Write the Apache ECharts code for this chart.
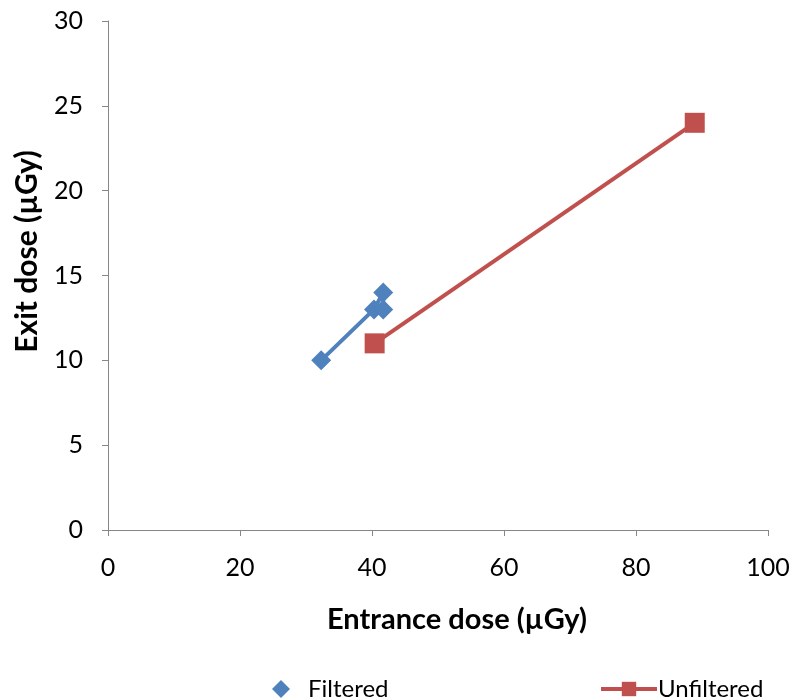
<!DOCTYPE html>
<html>
<head>
<meta charset="utf-8">
<script src="https://cdn.jsdelivr.net/npm/echarts@6/dist/echarts.min.js"></script>
<style>
  html, body { margin: 0; padding: 0; background: #fff; }
  #chart { width: 795px; height: 698px; }
</style>
</head>
<body>
<div id="chart"></div>
<script>
// Entrance vs exit dose, in µGy
const filteredEntrance = [32.3, 40.3, 41.7, 41.7];
const filteredExit = [10, 13, 14, 13];
const unfilteredEntrance = [40.4, 88.9];
const unfilteredExit = [11, 24];

const xTicks = [0, 20, 40, 60, 80, 100];
const yTicks = [0, 5, 10, 15, 20, 25, 30];

const FONT = 'Lato, "Open Sans", sans-serif';
const AXIS_GREY = '#868686';

const pairs = (xs, ys) => xs.map((x, i) => [x, ys[i]]);

const chart = echarts.init(document.getElementById('chart'), null, { renderer: 'canvas' });

chart.setOption({
  animation: false,
  backgroundColor: '#ffffff',
  grid: { left: 108, right: 27, top: 21, bottom: 168, containLabel: false },
  xAxis: {
    type: 'value',
    min: xTicks[0],
    max: xTicks[xTicks.length - 1],
    interval: xTicks[1] - xTicks[0],
    name: 'Entrance dose (µGy)',
    nameLocation: 'middle',
    nameGap: 75,
    // title sits a little right of the plot centre
    nameTextStyle: { fontFamily: FONT, fontSize: 29, fontWeight: 'bold', color: '#000', padding: [0, 0, 0, 38] },
    axisLine: { show: true, lineStyle: { color: AXIS_GREY, width: 1 } },
    axisTick: { show: true, length: 6, lineStyle: { color: AXIS_GREY } },
    axisLabel: { fontFamily: FONT, fontSize: 25, color: '#000', margin: 25 },
    splitLine: { show: false }
  },
  yAxis: {
    type: 'value',
    min: yTicks[0],
    max: yTicks[yTicks.length - 1],
    interval: yTicks[1] - yTicks[0],
    name: 'Exit dose (µGy)',
    nameLocation: 'middle',
    nameGap: 66,
    // title sits a little above the plot centre
    nameTextStyle: { fontFamily: FONT, fontSize: 30, fontWeight: 'bold', color: '#000', padding: [0, 0, 0, 48] },
    axisLine: { show: true, lineStyle: { color: AXIS_GREY, width: 1 } },
    axisTick: { show: true, length: 6, lineStyle: { color: AXIS_GREY } },
    axisLabel: { fontFamily: FONT, fontSize: 25, color: '#000', margin: 25 },
    splitLine: { show: false }
  },
  legend: [
    {
      left: 267, top: 672,
      itemWidth: 18, itemHeight: 18,
      data: [{ name: 'Filtered', icon: 'diamond' }],
      textStyle: { fontFamily: FONT, fontSize: 24, color: '#000', padding: [0, 0, 0, 13] }
    },
    {
      left: 594, top: 672,
      itemWidth: 56, itemHeight: 18,
      data: ['Unfiltered'],
      lineStyle: { width: 4 },
      textStyle: { fontFamily: FONT, fontSize: 24, color: '#000', padding: [0, 0, 0, -4] }
    }
  ],
  series: [
    {
      name: 'Filtered',
      type: 'line',
      data: pairs(filteredEntrance, filteredExit),
      symbol: 'diamond',
      symbolSize: 20,
      itemStyle: { color: '#4F81BD' },
      lineStyle: { color: '#4F81BD', width: 4 }
    },
    {
      name: 'Unfiltered',
      type: 'line',
      data: pairs(unfilteredEntrance, unfilteredExit),
      symbol: 'rect',
      symbolSize: 20,
      itemStyle: { color: '#C0504D' },
      lineStyle: { color: '#C0504D', width: 4 }
    }
  ]
});
</script>
</body>
</html>
